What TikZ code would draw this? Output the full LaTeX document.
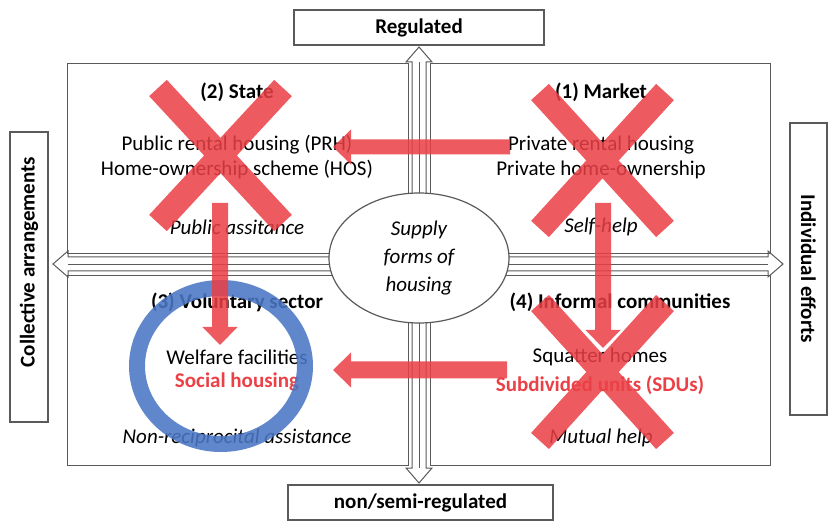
\documentclass[tikz,border=0pt]{standalone}
\usepackage{fontspec}
\setmainfont{Carlito}
\usetikzlibrary{arrows.meta,shapes.geometric}
\definecolor{xred}{RGB}{234,64,70}
\definecolor{ringblue}{RGB}{74,118,196}
\definecolor{edge}{RGB}{90,90,90}
\tikzset{
  quad/.style={draw=edge, line width=1.3pt, rectangle, inner sep=0pt, anchor=north west},
  tag/.style={draw=edge, line width=1.3pt, rectangle, inner sep=0pt, font=\fontsize{21}{25}\selectfont\bfseries},
  txt/.style={font=\fontsize{21}{25}\selectfont, inner sep=0pt},
  hd/.style={txt, font=\fontsize{21}{25}\selectfont\bfseries},
  it/.style={txt, font=\fontsize{21}{25}\selectfont\itshape},
  redtxt/.style={txt, text=xred, font=\fontsize{21}{25}\selectfont\bfseries},
  blockarrow/.style={draw=edge, line width=1pt, fill=white},
  cross/.style={draw=xred, line width=24pt},
  redarrow/.style={draw=xred, fill=xred, -{Triangle[width=34pt,length=18pt]}},
  ring/.style={draw=ringblue, line width=16pt, opacity=0.88, ellipse, inner sep=0pt}
}
\begin{document}
\begin{tikzpicture}[x=1pt,y=-1pt]
\useasboundingbox (0,0) rectangle (830,526);

% block arrows (axes)
\draw[blockarrow] (419,47) -- (432,62) -- (426,62) -- (426,468) -- (432,468) -- (419,483)
  -- (406,468) -- (412,468) -- (412,62) -- (406,62) -- cycle;
\draw[edge, line width=0.8pt] (419,62) -- (419,468);
\draw[blockarrow] (53,264) -- (68,251) -- (68,257) -- (768,257) -- (768,251) -- (783,264)
  -- (768,277) -- (768,271) -- (68,271) -- (68,277) -- cycle;
\draw[edge, line width=0.8pt] (68,264) -- (768,264);

% quadrant boxes
\node[quad, minimum width=341pt, minimum height=190pt] (q2) at (67,63) {};
\node[quad, minimum width=340pt, minimum height=190pt] (q1) at (430,63) {};
\node[quad, minimum width=341pt, minimum height=190pt] (q3) at (67,275) {};
\node[quad, minimum width=340pt, minimum height=190pt] (q4) at (430,275) {};

% label boxes
\node[tag, minimum width=250pt, minimum height=35pt] (reg) at (419,27.5) {Regulated};
\node[tag, minimum width=265pt, minimum height=35pt] (nonreg) at (420.5,502.5) {non/semi-regulated};
\node[tag, rotate=90, minimum width=290pt, minimum height=38pt] (coll) at (29,277) {};
\node[hd, rotate=90] (colltxt) at (29,262) {Collective arrangements};
\node[tag, rotate=-90, minimum width=292pt, minimum height=37pt] (indiv) at (808.5,269) {Individual efforts};

% centre ellipse
\node[ellipse, draw=edge, line width=1.2pt, fill=white, minimum width=180pt, minimum height=130pt,
  align=center, font=\fontsize{21}{28}\selectfont\itshape, inner sep=0pt] (supply) at (419,258)
  {Supply\\forms of\\housing};

% texts: State
\node[hd] (stateH) at (237,92) {(2) State};
\node[txt] (prh) at (237,145) {Public rental housing (PRH)};
\node[txt] (hos) at (237,170) {Home-ownership scheme (HOS)};
\node[it] (pa) at (237,227) {Public assitance};
% Market
\node[hd] (marketH) at (601,92) {(1) Market};
\node[txt] (prv1) at (601,145) {Private rental housing};
\node[txt] (prv2) at (601,170) {Private home-ownership};
\node[it] (sh) at (601,227) {Self-help};
% Voluntary
\node[hd] (volH) at (237,302) {(3) Voluntary sector};
\node[txt] (wf) at (237,357) {Welfare facilities};
\node[redtxt] (soc) at (237,382) {Social housing};
\node[it] (nra) at (237,438) {Non-reciprocital assistance};
% Informal
\node[hd] (infH) at (620,302) {(4) Informal communities};
\node[txt] (sq) at (600,357) {Squatter homes};
\node[redtxt] (sdu) at (600,385) {Subdivided units (SDUs)};
\node[it] (mh) at (601,438) {Mutual help};

% blue ring
\node[ring, minimum width=168pt, minimum height=156pt] (circ) at (221,366) {};

% red marks, drawn as one transparency group
\coordinate (a1s) at (510,147); \coordinate (a1e) at (333,147);
\coordinate (a2s) at (220,203); \coordinate (a2e) at (220,345);
\coordinate (a3s) at (603,203); \coordinate (a3e) at (603,348);
\coordinate (a4s) at (507,370); \coordinate (a4e) at (333,370);
\begin{scope}[transparency group, opacity=0.86]
\draw[cross] (158,88) -- (283,223) (283,88) -- (158,223);
\draw[cross] (540,92) -- (665,229) (665,92) -- (540,229);
\draw[cross] (540,303) -- (665,441) (665,303) -- (540,441);
\draw[redarrow, line width=15pt] (a1s) -- (a1e);
\draw[redarrow, line width=16pt] (a2s) -- (a2e);
\draw[redarrow, line width=16pt] (a3s) -- (a3e);
\draw[redarrow, line width=17pt] (a4s) -- (a4e);
\end{scope}
\end{tikzpicture}
\end{document}
